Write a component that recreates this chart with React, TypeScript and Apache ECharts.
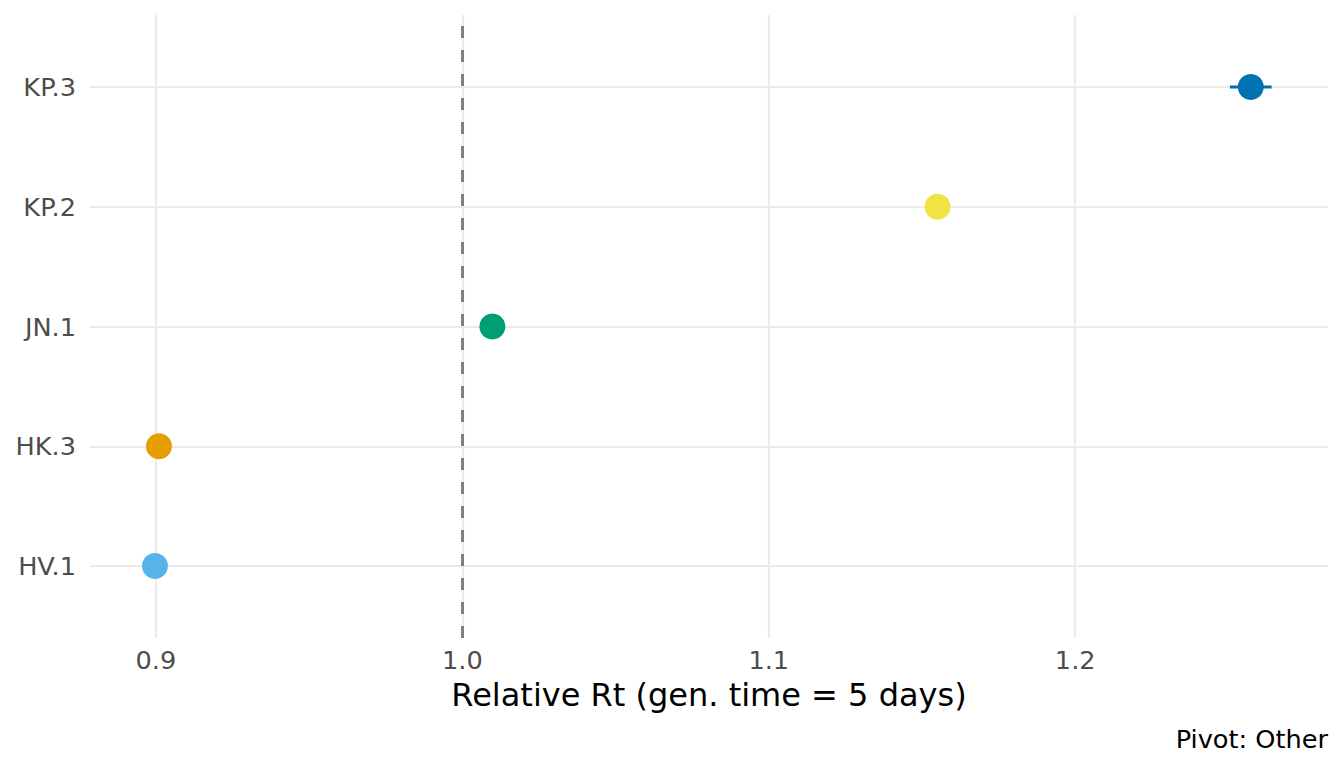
import React, { useEffect, useRef } from "react";
import * as echarts from "echarts";

const categories = ["HV.1", "HK.3", "JN.1", "KP.2", "KP.3"];
const estimates = [0.8997, 0.901, 1.0098, 1.1551, 1.2573];
const lower = [0.8992, 0.9005, 1.0093, 1.1546, 1.2505];
const upper = [0.9002, 0.9015, 1.0103, 1.1556, 1.2641];
const colors = ["#56B4E9", "#E69F00", "#009E73", "#F0E442", "#0072B2"];
const xTicks = [0.9, 1.0, 1.1, 1.2];
const xTitle = "Relative Rt (gen. time = 5 days)";
const caption = "Pivot: Other";
const referenceValue = 1.0;

const FONT = "DejaVu Sans";

export default function App() {
  const ref = useRef<HTMLDivElement>(null);
  useEffect(() => {
    if (!ref.current) return;
    const chart = echarts.init(ref.current, null, { renderer: "svg" });
    const catIdx = categories.map((_, i) => i + 1);
    chart.setOption({
      animation: false,
      backgroundColor: "#ffffff",
      grid: { left: 90, right: 16, top: 15, bottom: 130, containLabel: false },
      xAxis: {
        type: "value",
        min: 0.8785,
        max: 1.2825,
        axisLine: { show: false },
        axisTick: { show: false, customValues: xTicks },
        axisLabel: {
          customValues: xTicks,
          formatter: (v: number) => v.toFixed(1),
          color: "#4d4d4d",
          fontFamily: FONT,
          fontSize: 25.6,
          margin: 9,
        },
        splitLine: { show: true, lineStyle: { color: "#ebebeb", width: 2.2 } },
        name: xTitle,
        nameLocation: "middle",
        nameGap: 41,
        nameTextStyle: { color: "#000000", fontFamily: FONT, fontSize: 32 },
      },
      yAxis: {
        type: "value",
        min: 0.4,
        max: 5.6,
        axisLine: { show: false },
        axisTick: { show: false, customValues: catIdx },
        axisLabel: {
          customValues: catIdx,
          formatter: (v: number) => categories[Math.round(v) - 1] ?? "",
          color: "#4d4d4d",
          fontFamily: FONT,
          fontSize: 25.6,
          margin: 14,
        },
        splitLine: { show: true, lineStyle: { color: "#ebebeb", width: 2.2 } },
      },
      graphic: [
        {
          type: "text",
          right: 16,
          top: 726,
          style: {
            text: caption,
            fill: "#000000",
            font: `25.6px "${FONT}"`,
            textAlign: "right",
          },
        },
      ],
      series: [
        {
          type: "custom",
          z: 3,
          renderItem: (params: any, api: any) => {
            const y = api.value(0);
            const p1 = api.coord([api.value(1), y]);
            const p2 = api.coord([api.value(2), y]);
            return {
              type: "line",
              shape: { x1: p1[0], y1: p1[1], x2: p2[0], y2: p2[1] },
              style: { stroke: colors[api.value(3) - 1], lineWidth: 3 },
            };
          },
          encode: { x: [1, 2], y: 0 },
          data: categories.map((_, i) => [i + 1, lower[i], upper[i], i + 1]),
        },
        {
          type: "scatter",
          z: 4,
          symbolSize: 26,
          data: estimates.map((v, i) => ({
            value: [v, i + 1],
            itemStyle: { color: colors[i], opacity: 1 },
          })),
          markLine: {
            silent: true,
            symbol: "none",
            label: { show: false },
            lineStyle: { color: "#7f7f7f", type: [12, 12], width: 3 },
            data: [{ xAxis: referenceValue }],
          },
        },
      ],
    });
    return () => chart.dispose();
  }, []);
  return <div ref={ref} style={{ width: 1344, height: 768, position: "absolute", left: 0, top: 0 }} />;
}
